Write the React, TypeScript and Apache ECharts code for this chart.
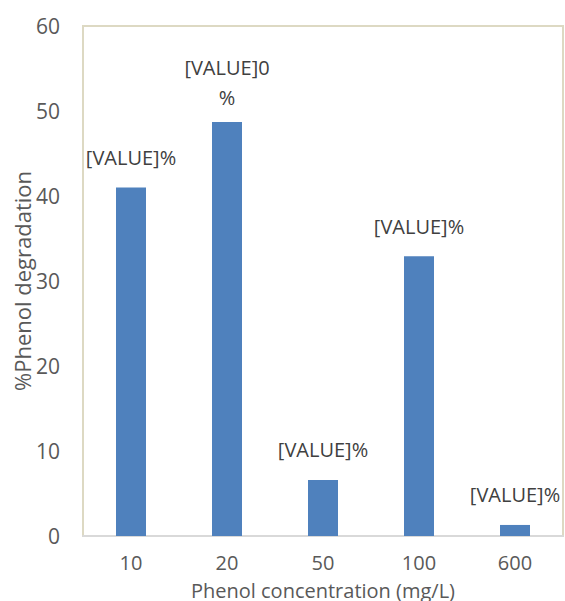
import React, { useEffect, useRef } from "react";
import * as echarts from "echarts";

const categories = ["10", "20", "50", "100", "600"];
const values = [41, 48.7, 6.6, 32.9, 1.3];
const labelTexts = ["[VALUE]%", "[VALUE]0\n%", "[VALUE]%", "[VALUE]%", "[VALUE]%"];
const yTicks = { min: 0, max: 60, interval: 10 };

export default function App() {
  const ref = useRef<HTMLDivElement>(null);
  useEffect(() => {
    if (!ref.current) return;
    const chart = echarts.init(ref.current, null, { renderer: "svg" });
    const font = "'Open Sans', 'Liberation Sans', sans-serif";
    chart.setOption({
      animation: false,
      backgroundColor: "#ffffff",
      textStyle: { fontFamily: font },
      grid: {
        left: 83,
        top: 26,
        right: 2,
        bottom: 65,
        containLabel: false,
        outerBoundsMode: "none",
        show: true,
        borderColor: "#ddd9c3",
        borderWidth: 2,
        backgroundColor: "transparent",
      },
      xAxis: {
        type: "category",
        data: categories,
        name: "Phenol concentration (mg/L)",
        nameLocation: "middle",
        nameGap: 44,
        nameMoveOverlap: false,
        nameTextStyle: {
          fontSize: 20,
          lineHeight: 20,
          color: "#595959",
          fontFamily: font,
          verticalAlign: "top",
        },
        axisLine: { show: true, lineStyle: { color: "#d9d9d9", width: 2 } },
        axisTick: { show: false },
        axisLabel: { fontSize: 20, lineHeight: 20, color: "#595959", margin: 16, fontFamily: font },
      },
      yAxis: {
        type: "value",
        min: yTicks.min,
        max: yTicks.max,
        interval: yTicks.interval,
        name: "%Phenol degradation",
        nameLocation: "middle",
        nameGap: 50,
        nameMoveOverlap: false,
        nameTextStyle: { fontSize: 22, color: "#595959", fontFamily: font },
        axisLine: { show: false },
        axisTick: { show: false },
        splitLine: { show: false },
        axisLabel: { fontSize: 21, color: "#595959", margin: 23, fontFamily: font },
      },
      series: [
        {
          type: "bar",
          barWidth: 30,
          itemStyle: { color: "#4f81bd" },
          data: values.map((v, i) => ({
            value: v,
            label: {
              show: true,
              position: "top",
              distance: i === 1 ? 10 : 15,
              formatter: labelTexts[i],
              fontSize: 20,
              lineHeight: 30,
              color: "#404040",
              fontFamily: font,
            },
          })),
        },
      ],
    });
    return () => chart.dispose();
  }, []);
  return (
    <div
      ref={ref}
      style={{ position: "fixed", left: 0, top: 0, width: 565, height: 601 }}
    />
  );
}
